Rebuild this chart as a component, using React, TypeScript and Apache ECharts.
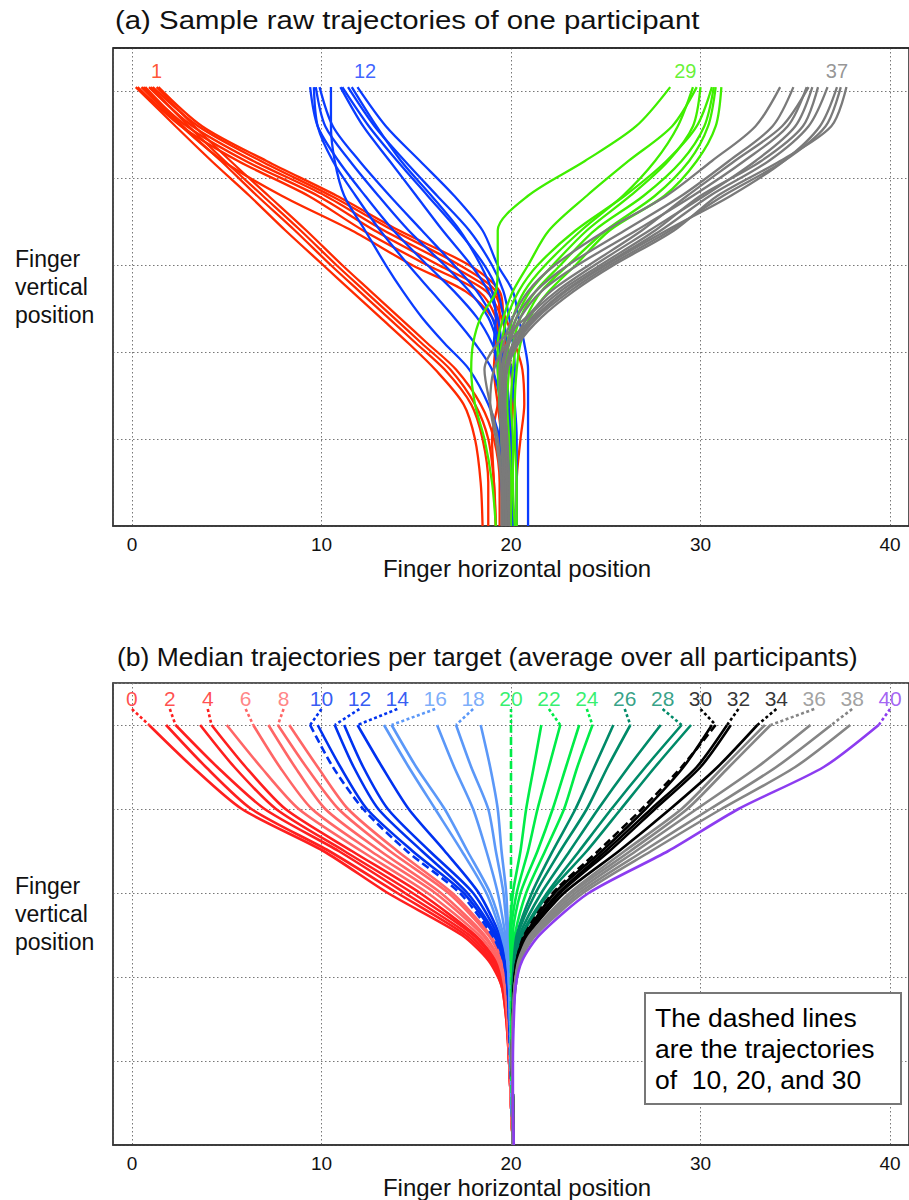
import React, { useEffect, useRef } from 'react';
import * as echarts from 'echarts';

const FONT = '"Liberation Sans", Arial, Helvetica, sans-serif';

// ---------- Panel (a): raw trajectories of one participant ----------
const TOP_Y = [5.05, 4.6, 4.2, 3.8, 3.4, 3.0, 2.7, 2.4, 2.1, 1.8, 1.4, 1.0, 0.5, 0.0];

const TARGET_1_RUNS = [
  [0.3, 2.6, 5.6, 9.3, 12.2, 15.6, 18.3, 19.2, 19.4, 19.5, 19.6, 19.8, 19.7, 19.8],
  [0.6, 2.9, 6.0, 9.8, 12.8, 16.2, 18.7, 19.5, 19.8, 20.0, 20.1, 20.0, 19.9, 20.0],
  [0.9, 3.2, 6.4, 10.2, 13.3, 16.8, 19.0, 19.7, 20.2, 20.6, 20.7, 20.5, 20.3, 20.3],
  [1.1, 3.5, 6.8, 10.5, 13.8, 17.3, 19.2, 19.4, 19.2, 19.1, 19.3, 19.5, 19.6, 19.6],
  [1.4, 3.7, 7.1, 10.8, 14.1, 17.8, 19.4, 19.6, 19.7, 19.6, 19.5, 19.7, 19.8, 19.9],
  [0.2, 2.3, 4.2, 6.2, 8.1, 10.1, 11.6, 13.1, 14.6, 16.0, 17.5, 18.1, 18.4, 18.5],
  [0.7, 2.7, 4.7, 6.6, 8.6, 10.5, 12.0, 13.5, 15.0, 16.5, 17.9, 18.5, 18.8, 18.8],
  [1.0, 3.0, 4.9, 6.9, 8.9, 10.8, 12.3, 13.8, 15.3, 16.8, 18.1, 18.8, 19.1, 19.2],
  [1.3, 3.3, 5.2, 7.2, 9.2, 11.1, 12.6, 14.1, 15.6, 17.1, 18.4, 19.1, 19.4, 19.4],
  [0.5, 2.6, 4.8, 7.9, 11.6, 14.8, 17.6, 19.0, 19.5, 19.6, 19.3, 19.0, 19.1, 19.2],
];

const TARGET_12_RUNS = [
  [9.4, 9.8, 10.9, 12.3, 13.8, 15.6, 17.0, 18.2, 19.0, 19.5, 19.7, 19.8, 19.8, 19.9],
  [9.7, 10.2, 11.5, 13.0, 14.6, 16.5, 17.8, 18.8, 19.3, 19.6, 19.8, 20.0, 20.1, 20.1],
  [10.5, 10.5, 10.7, 11.2, 12.3, 13.4, 14.3, 15.3, 16.5, 17.8, 18.8, 19.4, 19.6, 19.7],
  [9.9, 10.6, 12.0, 13.6, 15.3, 17.0, 18.2, 19.0, 19.4, 19.7, 19.9, 20.0, 20.0, 20.1],
  [11.0, 12.2, 13.6, 15.0, 16.4, 17.9, 18.8, 19.3, 19.5, 19.6, 19.5, 19.4, 19.5, 19.6],
  [11.1, 12.5, 14.0, 15.6, 17.2, 18.6, 19.3, 19.6, 19.8, 20.0, 20.2, 20.3, 20.3, 20.3],
  [11.4, 12.8, 14.4, 16.1, 17.8, 19.0, 19.6, 19.9, 20.1, 20.2, 20.0, 19.9, 19.9, 19.9],
  [11.9, 13.4, 15.2, 17.0, 18.5, 19.3, 20.1, 20.4, 20.7, 20.9, 20.9, 20.9, 20.9, 20.9],
  [9.6, 9.8, 10.6, 11.8, 13.1, 14.6, 15.8, 17.0, 18.1, 19.0, 19.5, 19.7, 19.8, 19.8],
  [11.6, 12.9, 14.2, 15.8, 17.3, 18.4, 19.0, 19.2, 19.1, 19.3, 19.4, 19.6, 19.7, 19.8],
];

const TARGET_29_RUNS = [
  [28.4, 26.6, 23.9, 20.9, 19.3, 19.3, 19.2, 18.4, 18.0, 17.9, 18.1, 18.6, 19.0, 19.2],
  [29.6, 28.8, 27.6, 25.9, 23.7, 21.8, 20.7, 20.1, 19.8, 19.6, 19.5, 19.6, 19.7, 19.8],
  [30.0, 29.6, 28.3, 26.3, 24.0, 22.2, 21.0, 20.3, 19.9, 19.7, 19.6, 19.7, 19.8, 19.9],
  [30.7, 30.2, 29.0, 27.0, 24.4, 22.6, 21.3, 20.5, 20.1, 19.9, 19.8, 19.9, 20.0, 20.0],
  [30.6, 29.8, 28.2, 26.0, 23.4, 21.4, 20.4, 19.8, 19.5, 19.4, 19.5, 19.6, 19.6, 19.7],
  [30.8, 30.4, 29.4, 27.6, 25.0, 23.0, 21.6, 20.8, 20.3, 20.1, 20.0, 20.1, 20.1, 20.2],
  [31.1, 30.8, 29.8, 28.1, 25.2, 23.4, 22.0, 21.0, 20.5, 20.3, 20.2, 20.2, 20.3, 20.3],
  [29.8, 28.5, 26.2, 24.0, 22.0, 20.9, 20.1, 19.6, 19.3, 19.3, 19.4, 19.5, 19.6, 19.6],
];

const TARGET_37_RUNS = [
  [34.2, 32.9, 30.6, 28.2, 25.0, 22.3, 20.9, 20.1, 19.6, 19.4, 19.4, 19.5, 19.6, 19.6],
  [34.9, 33.8, 31.5, 29.0, 26.0, 23.0, 21.3, 20.3, 19.8, 19.5, 19.5, 19.6, 19.7, 19.7],
  [35.6, 34.6, 32.3, 29.6, 26.6, 23.5, 21.6, 20.5, 19.9, 19.6, 19.6, 19.8, 19.8, 19.8],
  [35.7, 34.3, 31.8, 29.3, 26.9, 24.1, 22.1, 20.8, 19.3, 18.6, 18.9, 19.3, 19.5, 19.5],
  [35.9, 35.0, 32.9, 30.2, 27.3, 24.4, 22.4, 20.9, 20.1, 19.7, 19.6, 19.7, 19.7, 19.8],
  [36.2, 35.4, 33.2, 30.0, 27.6, 24.7, 22.6, 21.1, 20.2, 19.8, 19.7, 19.8, 19.9, 19.9],
  [36.7, 35.7, 33.6, 30.5, 27.9, 24.9, 22.8, 21.2, 19.8, 19.1, 18.9, 19.2, 19.5, 19.6],
  [37.2, 36.3, 34.4, 31.6, 28.2, 25.0, 22.9, 21.3, 20.2, 19.7, 19.5, 19.5, 19.6, 19.6],
  [37.4, 36.6, 34.4, 31.2, 28.4, 25.2, 23.1, 21.4, 20.3, 19.7, 19.5, 19.6, 19.7, 19.7],
  [37.7, 36.9, 34.2, 30.9, 28.6, 25.4, 23.3, 21.6, 20.4, 19.8, 19.6, 19.7, 19.8, 19.9],
];

const TOP_LABELS = ['1', '12', '29', '37'];
const TOP_LABEL_X = [1.3, 12.3, 29.2, 37.2];
const TOP_LABEL_Y = 5.23;

// ---------- Panel (b): median trajectories per target ----------
const BOTTOM_Y = [5.0, 4.5, 4.0, 3.5, 3.0, 2.5, 2.2, 1.9, 1.5, 1.0, 0.5, 0.0];

const MEDIAN_RUNS = [
  [0.9, 3.2, 5.8, 10.1, 13.5, 17.4, 18.8, 19.5, 19.75, 19.9, 20.0, 20.1],
  [1.8, 3.9, 6.3, 10.4, 14.0, 17.6, 18.9, 19.5, 19.75, 19.9, 20.0, 20.1],
  [2.3, 4.5, 7.0, 10.9, 14.4, 17.8, 19.0, 19.55, 19.8, 19.9, 20.0, 20.1],
  [3.6, 5.4, 7.6, 11.2, 14.8, 18.0, 19.1, 19.6, 19.8, 19.9, 20.0, 20.1],
  [4.2, 6.0, 8.1, 11.6, 15.2, 18.1, 19.2, 19.6, 19.8, 19.9, 20.0, 20.1],
  [5.0, 6.8, 8.8, 12.1, 15.6, 18.3, 19.3, 19.65, 19.8, 19.9, 20.0, 20.1],
  [6.4, 7.8, 9.5, 12.6, 16.0, 18.5, 19.4, 19.7, 19.85, 19.95, 20.0, 20.1],
  [7.2, 8.6, 10.2, 13.1, 16.3, 18.6, 19.4, 19.7, 19.85, 19.95, 20.0, 20.1],
  [7.7, 9.2, 10.9, 13.6, 16.7, 18.8, 19.5, 19.75, 19.85, 19.95, 20.0, 20.1],
  [8.3, 9.8, 11.4, 14.0, 16.9, 18.9, 19.5, 19.75, 19.9, 19.95, 20.0, 20.1],
  [9.4, 10.6, 12.2, 14.5, 17.3, 19.0, 19.6, 19.8, 19.9, 19.95, 20.05, 20.1],
  [9.8, 11.0, 12.4, 14.8, 17.5, 19.1, 19.6, 19.8, 19.9, 20.0, 20.05, 20.1],
  [10.7, 11.7, 13.0, 15.3, 17.7, 19.2, 19.65, 19.85, 19.9, 20.0, 20.05, 20.1],
  [11.2, 12.2, 13.5, 15.7, 18.0, 19.3, 19.7, 19.85, 19.95, 20.0, 20.05, 20.1],
  [11.9, 13.2, 14.6, 16.5, 18.3, 19.4, 19.7, 19.85, 19.95, 20.0, 20.05, 20.1],
  [13.3, 14.6, 16.0, 17.4, 18.7, 19.5, 19.8, 19.9, 19.95, 20.0, 20.05, 20.1],
  [13.7, 15.0, 16.5, 17.7, 18.9, 19.6, 19.8, 19.9, 19.95, 20.0, 20.05, 20.1],
  [16.1, 17.0, 18.0, 18.7, 19.3, 19.7, 19.85, 19.9, 19.95, 20.0, 20.05, 20.1],
  [17.1, 17.9, 18.8, 19.2, 19.6, 19.8, 19.9, 19.95, 20.0, 20.0, 20.05, 20.1],
  [18.4, 18.9, 19.3, 19.5, 19.75, 19.85, 19.9, 19.95, 20.0, 20.0, 20.05, 20.1],
  [20.0, 20.0, 20.0, 20.0, 20.0, 20.0, 20.0, 20.0, 20.0, 20.0, 20.05, 20.1],
  [21.6, 21.2, 20.8, 20.5, 20.1, 19.95, 20.0, 20.05, 20.05, 20.05, 20.1, 20.1],
  [22.6, 22.0, 21.4, 20.9, 20.3, 20.0, 20.05, 20.05, 20.05, 20.05, 20.1, 20.1],
  [23.6, 22.9, 22.2, 21.4, 20.5, 20.1, 20.1, 20.1, 20.05, 20.05, 20.1, 20.1],
  [24.3, 23.5, 22.8, 21.8, 20.8, 20.2, 20.1, 20.1, 20.05, 20.05, 20.1, 20.1],
  [25.4, 24.4, 23.4, 22.2, 21.1, 20.3, 20.15, 20.1, 20.1, 20.05, 20.1, 20.1],
  [26.3, 25.1, 24.0, 22.6, 21.3, 20.35, 20.2, 20.1, 20.1, 20.05, 20.1, 20.1],
  [27.9, 26.2, 24.6, 23.1, 21.6, 20.45, 20.2, 20.1, 20.1, 20.05, 20.1, 20.1],
  [29.0, 27.1, 25.3, 23.6, 21.9, 20.55, 20.25, 20.15, 20.1, 20.05, 20.1, 20.1],
  [29.5, 27.6, 25.8, 24.0, 22.0, 20.6, 20.25, 20.15, 20.1, 20.05, 20.1, 20.1],
  [30.8, 29.0, 26.9, 24.6, 22.2, 20.7, 20.3, 20.15, 20.1, 20.05, 20.1, 20.1],
  [30.6, 29.1, 27.1, 24.8, 22.3, 20.75, 20.3, 20.15, 20.1, 20.05, 20.1, 20.1],
  [31.4, 29.8, 27.4, 25.0, 22.5, 20.8, 20.35, 20.2, 20.1, 20.05, 20.1, 20.1],
  [31.6, 30.0, 27.6, 25.2, 22.6, 20.85, 20.35, 20.2, 20.1, 20.05, 20.1, 20.1],
  [33.0, 30.9, 28.4, 25.7, 22.8, 20.9, 20.4, 20.2, 20.1, 20.05, 20.1, 20.1],
  [33.4, 31.2, 29.0, 26.0, 23.1, 21.0, 20.4, 20.2, 20.1, 20.05, 20.1, 20.1],
  [33.7, 31.5, 29.3, 26.3, 23.2, 21.05, 20.45, 20.2, 20.1, 20.05, 20.1, 20.1],
  [35.8, 33.0, 29.8, 26.6, 23.4, 21.1, 20.45, 20.2, 20.1, 20.05, 20.1, 20.1],
  [36.9, 34.0, 30.5, 27.0, 23.6, 21.2, 20.5, 20.25, 20.1, 20.05, 20.1, 20.1],
  [37.9, 35.0, 31.1, 27.4, 23.8, 21.3, 20.5, 20.25, 20.1, 20.05, 20.1, 20.1],
  [39.4, 36.5, 32.0, 28.3, 24.1, 21.5, 20.6, 20.25, 20.15, 20.1, 20.1, 20.15],
];

const MEDIAN_TARGETS = MEDIAN_RUNS.map((_, i) => i); // 0 .. 40
const LABELED_TARGETS = [0, 2, 4, 6, 8, 10, 12, 14, 16, 18, 20, 22, 24, 26, 28, 30, 32, 34, 36, 38, 40];
const DASHED_TARGETS = [10, 20, 30];
const BOTTOM_LABEL_Y = 5.32;
const CONNECTOR_TOP_Y = 5.19;

const TICK_VALUES = [0, 10, 20, 30, 40];

// ---------- styles ----------
const TOP_COLORS = ['#ff2a00', '#0a3cff', '#3fee00', '#7a7a7a'];
const GROUP_COLORS = ['#ff1f1f', '#ff6666', '#0032f0', '#5b98f8', '#00ec48', '#008a68', '#000000', '#858585', '#8c3cf0'];
const groupOf = (t: number) => (t >= 40 ? 8 : Math.floor(t / 5));

function toPoints(xs: number[], ys: number[]) {
  return xs.map((x, i) => [x, ys[i]]);
}

function buildOption() {
  const series: any[] = [];

  // panel (a)
  const topRuns = [TARGET_1_RUNS, TARGET_12_RUNS, TARGET_29_RUNS, TARGET_37_RUNS];
  topRuns.forEach((runs, g) => {
    runs.forEach((xs) => {
      series.push({
        type: 'line',
        xAxisIndex: 0,
        yAxisIndex: 0,
        data: toPoints(xs, TOP_Y),
        symbol: 'none',
        smooth: 0.3,
        silent: true,
        lineStyle: { color: TOP_COLORS[g], width: 2.3 },
      });
    });
  });
  series.push({
    type: 'scatter',
    xAxisIndex: 0,
    yAxisIndex: 0,
    symbolSize: 1,
    itemStyle: { color: 'rgba(0,0,0,0)' },
    silent: true,
    z: 10,
    data: TOP_LABELS.map((name, i) => ({
      name,
      value: [TOP_LABEL_X[i], TOP_LABEL_Y],
      label: { color: TOP_COLORS[i] },
    })),
    label: { show: true, position: 'inside', formatter: '{b}', fontSize: 20, fontFamily: FONT },
  });

  // panel (b)
  MEDIAN_TARGETS.forEach((t) => {
    const color = GROUP_COLORS[groupOf(t)];
    const dashed = DASHED_TARGETS.includes(t);
    series.push({
      type: 'line',
      xAxisIndex: 1,
      yAxisIndex: 1,
      data: toPoints(MEDIAN_RUNS[t], BOTTOM_Y),
      symbol: 'none',
      smooth: 0.25,
      silent: true,
      lineStyle: { color, width: 2.6, type: dashed ? [8, 4] : 'solid' },
    });
  });
  LABELED_TARGETS.forEach((t) => {
    const color = GROUP_COLORS[groupOf(t)];
    series.push({
      type: 'line',
      xAxisIndex: 1,
      yAxisIndex: 1,
      data: [[t, CONNECTOR_TOP_Y], [MEDIAN_RUNS[t][0], BOTTOM_Y[0]]],
      symbol: 'none',
      silent: true,
      lineStyle: { color, width: 2.6, type: [3, 2.5] },
    });
  });
  series.push({
    type: 'scatter',
    xAxisIndex: 1,
    yAxisIndex: 1,
    symbolSize: 1,
    itemStyle: { color: 'rgba(0,0,0,0)' },
    silent: true,
    z: 10,
    data: LABELED_TARGETS.map((t) => ({
      name: String(t),
      value: [t, BOTTOM_LABEL_Y],
      label: { color: groupOf(t) === 7 ? '#8a8a8a' : GROUP_COLORS[groupOf(t)] },
    })),
    label: { show: true, position: 'inside', formatter: '{b}', fontSize: 21, fontFamily: FONT },
  });

  const xAxisBase = (gridIndex: number) => ({
    gridIndex,
    type: 'value',
    min: -1,
    max: 41,
    splitNumber: 4,
    axisLine: { show: true, onZero: false, lineStyle: { color: '#333', width: 1.5 } },
    axisTick: { show: false },
    axisLabel: {
      fontSize: 19,
      fontFamily: FONT,
      color: '#111',
      margin: 9,
      showMinLabel: false,
      showMaxLabel: false,
      formatter: (v: number) => (TICK_VALUES.includes(v) ? String(v) : ''),
    },
    splitLine: { show: true, lineStyle: { color: '#777', width: 1, type: [1.5, 2.5] } },
    name: 'Finger horizontal position',
    nameLocation: 'middle',
    nameGap: 30,
    nameTextStyle: { fontSize: 24, fontFamily: FONT, color: '#111', padding: [0, 0, 0, 12] },
  });
  const yAxisBase = (gridIndex: number) => ({
    gridIndex,
    type: 'value',
    min: 0,
    max: 5.5,
    interval: 1,
    axisLine: { show: true, onZero: false, lineStyle: { color: '#444', width: 1.5 } },
    axisTick: { show: false },
    axisLabel: { show: false },
    splitLine: { show: true, lineStyle: { color: '#777', width: 1, type: [1.5, 2.5] } },
  });

  return {
    animation: false,
    backgroundColor: '#ffffff',
    textStyle: { fontFamily: FONT },
    grid: [
      { left: 113, top: 48, width: 798, height: 478, show: true, borderColor: '#222', borderWidth: 1.5, containLabel: false },
      { left: 113, top: 683, width: 798, height: 462, show: true, borderColor: '#222', borderWidth: 1.5, containLabel: false },
    ],
    xAxis: [xAxisBase(0), xAxisBase(1)],
    yAxis: [yAxisBase(0), yAxisBase(1)],
    series,
    graphic: [
      {
        type: 'line', z: 100,
        shape: { x1: 113, y1: 48, x2: 909, y2: 48 },
        style: { stroke: '#222', lineWidth: 1.5 },
      },
      {
        type: 'text', x: 115, y: 20, z: 100, scaleX: 1.13,
        style: { text: '(a) Sample raw trajectories of one participant', fontSize: 26, fontFamily: FONT, fill: '#111', align: 'left', verticalAlign: 'middle' },
      },
      {
        type: 'text', x: 117, y: 657, z: 100, scaleX: 1.06,
        style: { text: '(b) Median trajectories per target (average over all participants)', fontSize: 25, fontFamily: FONT, fill: '#111', align: 'left', verticalAlign: 'middle' },
      },
      {
        type: 'text', x: 15, y: 287, z: 100,
        style: { text: 'Finger\nvertical\nposition', fontSize: 23, lineHeight: 28, fontFamily: FONT, fill: '#111', align: 'left', verticalAlign: 'middle' },
      },
      {
        type: 'text', x: 15, y: 914, z: 100,
        style: { text: 'Finger\nvertical\nposition', fontSize: 23, lineHeight: 28, fontFamily: FONT, fill: '#111', align: 'left', verticalAlign: 'middle' },
      },
      {
        type: 'rect', z: 100,
        shape: { x: 645, y: 993, width: 256, height: 111 },
        style: { fill: '#ffffff', stroke: '#777', lineWidth: 2 },
      },
      {
        type: 'text', x: 655, y: 1049, z: 101, scaleX: 1.06,
        style: { text: 'The dashed lines\nare the trajectories\nof  10, 20, and 30', fontSize: 25, lineHeight: 31, fontFamily: FONT, fill: '#000', align: 'left', verticalAlign: 'middle' },
      },
    ],
  };
}

export default function App() {
  const ref = useRef<HTMLDivElement>(null);
  useEffect(() => {
    if (!ref.current) return;
    const chart = echarts.init(ref.current, null, { renderer: 'svg' });
    chart.setOption(buildOption() as any);
    return () => chart.dispose();
  }, []);
  return (
    <div
      ref={ref}
      style={{ position: 'absolute', left: 0, top: 0, width: 909, height: 1200, background: '#fff', overflow: 'hidden' }}
    />
  );
}
